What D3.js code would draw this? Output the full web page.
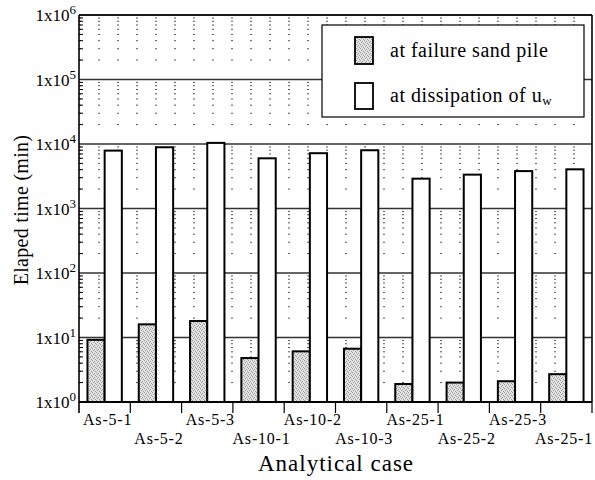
<!DOCTYPE html>
<html>
<head>
<meta charset="utf-8">
<script src="https://cdn.jsdelivr.net/npm/d3@7"></script>
<style>
  body { margin: 0; background: #fff; }
  text { font-family: "Liberation Serif", "Times New Roman", serif; fill: #000; }
</style>
</head>
<body>
<div id="chart"></div>
<script>
// Data
var cases = ["As-5-1", "As-5-2", "As-5-3", "As-10-1", "As-10-2", "As-10-3",
             "As-25-1", "As-25-2", "As-25-3", "As-25-1"];
var failureSandPile = [9.2, 16, 18, 4.8, 6.1, 6.7, 1.9, 2.0, 2.1, 2.7];
var dissipationUw = [7900, 8900, 10400, 6000, 7200, 8000, 2900, 3350, 3800, 4050];
var yTickValues = [1, 10, 100, 1000, 10000, 100000, 1000000];
var yTickExps = ["0", "1", "2", "3", "4", "5", "6"];

var W = 595, H = 480;
var plotL = 79, plotR = 592, plotT = 15, plotB = 402;

var svg = d3.select("#chart").append("svg")
    .attr("width", W).attr("height", H);

// stipple pattern for the grey bars
var defs = svg.append("defs");
var pat = defs.append("pattern")
    .attr("id", "stip").attr("width", 4).attr("height", 4)
    .attr("patternUnits", "userSpaceOnUse");
pat.append("rect").attr("width", 4).attr("height", 4).attr("fill", "#e2e2e2");
[[0, 0], [2, 1], [1, 2], [3, 3]].forEach(function(p) {
    pat.append("rect").attr("x", p[0]).attr("y", p[1])
        .attr("width", 1).attr("height", 1).attr("fill", "#999");
});

var x = d3.scaleBand().domain(d3.range(cases.length)).range([plotL, plotR]).padding(0);
var y = d3.scaleLog().domain([1, 1e6]).range([plotB, plotT]);

// minor (dotted) gridlines
var minor = [];
yTickValues.slice(0, -1).forEach(function(d) {
    for (var k = 2; k <= 9; k++) minor.push(d * k);
});
svg.append("g").selectAll("line").data(minor).enter().append("line")
    .attr("x1", plotL).attr("x2", plotR)
    .attr("y1", function(d) { return y(d); })
    .attr("y2", function(d) { return y(d); })
    .attr("stroke", "#555").attr("stroke-width", 1)
    .attr("stroke-dasharray", "2,17");

// minor ticks on the left axis
svg.append("g").selectAll("line").data(minor).enter().append("line")
    .attr("x1", plotL).attr("x2", plotL + 4)
    .attr("y1", function(d) { return y(d); })
    .attr("y2", function(d) { return y(d); })
    .attr("stroke", "#000").attr("stroke-width", 1);

// major gridlines
svg.append("g").selectAll("line").data(yTickValues).enter().append("line")
    .attr("x1", plotL).attr("x2", plotR)
    .attr("y1", function(d) { return y(d); })
    .attr("y2", function(d) { return y(d); })
    .attr("stroke", "#333").attr("stroke-width", 1.3);

// bars
var bw = x.bandwidth();
var g = svg.append("g");
g.selectAll(".fail").data(failureSandPile).enter().append("rect")
    .attr("class", "fail")
    .attr("x", function(d, i) { return x(i) + bw * 0.165; })
    .attr("width", bw * 0.335)
    .attr("y", function(d) { return y(d); })
    .attr("height", function(d) { return y(1) - y(d); })
    .attr("fill", "url(#stip)")
    .attr("stroke", "#000").attr("stroke-width", 2);
g.selectAll(".diss").data(dissipationUw).enter().append("rect")
    .attr("class", "diss")
    .attr("x", function(d, i) { return x(i) + bw * 0.5; })
    .attr("width", bw * 0.335)
    .attr("y", function(d) { return y(d); })
    .attr("height", function(d) { return y(1) - y(d); })
    .attr("fill", "#fff")
    .attr("stroke", "#000").attr("stroke-width", 2);

// frame / axes
svg.append("line").attr("x1", plotL).attr("x2", plotL).attr("y1", plotT).attr("y2", plotB + 11)
    .attr("stroke", "#000").attr("stroke-width", 1.6);
svg.append("line").attr("x1", plotR).attr("x2", plotR).attr("y1", plotT).attr("y2", plotB)
    .attr("stroke", "#000").attr("stroke-width", 1.6);
svg.append("line").attr("x1", plotL).attr("x2", plotR).attr("y1", plotT).attr("y2", plotT)
    .attr("stroke", "#000").attr("stroke-width", 1.6);
svg.append("line").attr("x1", plotL).attr("x2", plotR).attr("y1", plotB).attr("y2", plotB)
    .attr("stroke", "#000").attr("stroke-width", 1.8);

// x ticks at group boundaries
svg.append("g").selectAll("line").data(d3.range(cases.length)).enter().append("line")
    .attr("x1", function(d) { return x(d) + bw; })
    .attr("x2", function(d) { return x(d) + bw; })
    .attr("y1", plotB).attr("y2", plotB + 11)
    .attr("stroke", "#000").attr("stroke-width", 1.2);

// x labels, staggered (kept inside the page on the right)
svg.append("g").selectAll("text").data(cases).enter().append("text")
    .attr("y", function(d, i) { return i % 2 === 0 ? 425 : 444; })
    .attr("text-anchor", "middle")
    .style("font-size", "16px")
    .style("letter-spacing", "0.8px")
    .text(function(d) { return d; })
    .attr("x", function(d, i) {
        var half = this.getComputedTextLength() / 2;
        return Math.min(x(i) + bw / 2 + 3, W - 2 - half);
    });

// y labels 1x10^n
var yl = svg.append("g").selectAll("text").data(yTickValues).enter().append("text")
    .attr("x", 76)
    .attr("y", function(d) { return y(d) + 6; })
    .attr("text-anchor", "end")
    .style("font-size", "17px");
yl.append("tspan").text("1x10");
yl.append("tspan").attr("dy", -7).style("font-size", "13px")
    .text(function(d, i) { return yTickExps[i]; });

// axis titles
svg.append("text")
    .attr("transform", "translate(28,210) rotate(-90)")
    .attr("text-anchor", "middle")
    .style("font-size", "20px")
    .style("letter-spacing", "0.3px")
    .text("Elaped time (min)");
svg.append("text")
    .attr("x", 336).attr("y", 471)
    .attr("text-anchor", "middle")
    .style("font-size", "23px")
    .style("letter-spacing", "1px")
    .text("Analytical case");

// legend
var lg = svg.append("g");
lg.append("rect").attr("x", 322).attr("y", 25).attr("width", 262).attr("height", 92)
    .attr("fill", "#fff").attr("stroke", "#000").attr("stroke-width", 1.2);
lg.append("rect").attr("x", 355).attr("y", 37).attr("width", 18).attr("height", 27)
    .attr("fill", "url(#stip)").attr("stroke", "#000").attr("stroke-width", 1.8);
lg.append("rect").attr("x", 355).attr("y", 83).attr("width", 18).attr("height", 26)
    .attr("fill", "#fff").attr("stroke", "#000").attr("stroke-width", 1.8);
lg.append("text").attr("x", 390).attr("y", 57).style("font-size", "20px")
    .style("letter-spacing", "0.5px")
    .text("at failure sand pile");
var t2 = lg.append("text").attr("x", 390).attr("y", 102).style("font-size", "20px")
    .style("letter-spacing", "0.5px");
t2.append("tspan").text("at dissipation of u");
t2.append("tspan").attr("dy", 3).style("font-size", "13px").text("w");
</script>
</body>
</html>
